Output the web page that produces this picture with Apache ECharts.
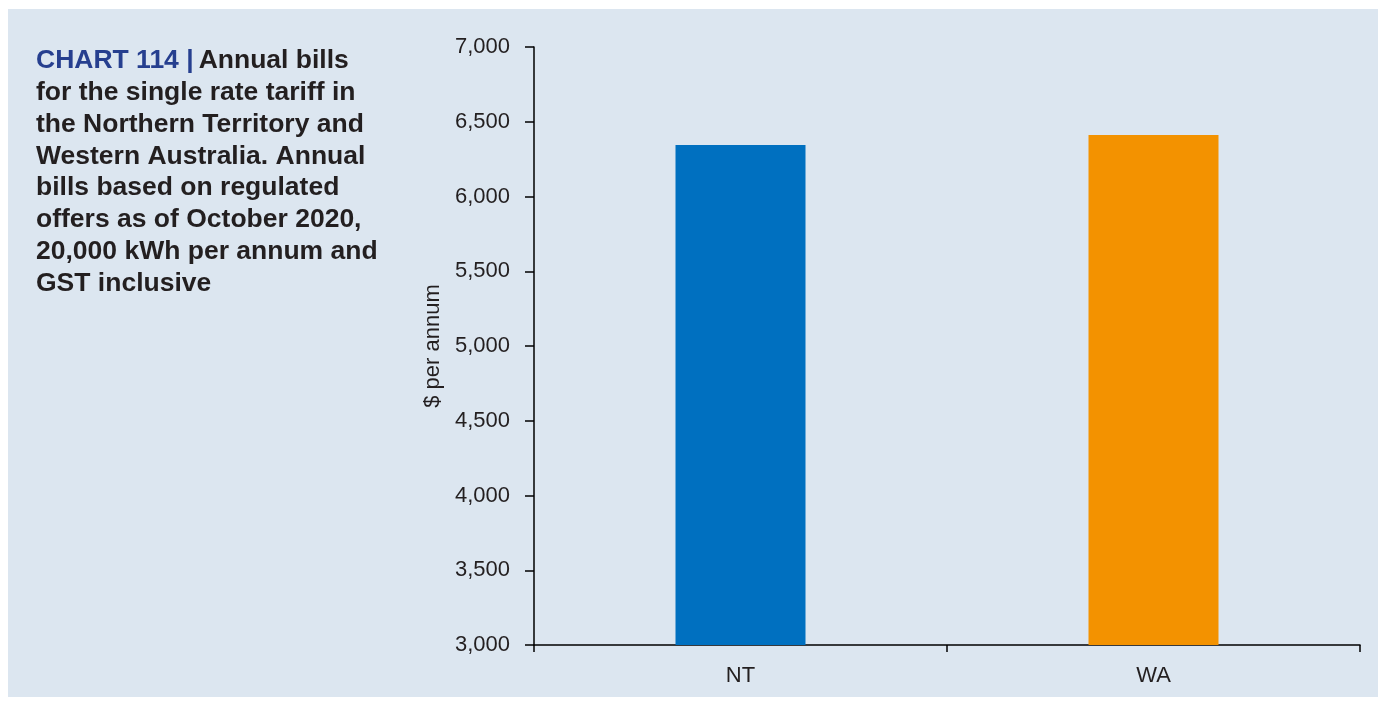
<!DOCTYPE html>
<html><head><meta charset="utf-8">
<script src="https://cdn.jsdelivr.net/npm/echarts@6/dist/echarts.min.js"></script>
<style>html,body{margin:0;padding:0;background:#fff}#c{width:1381px;height:703px}</style>
</head><body><div id="c"></div>
<script>
const categories = ['NT', 'WA'];
const values = [6345, 6412];
const barColors = ['#0070c0', '#f39200'];
const yTicks = { min: 3000, max: 7000, interval: 500 };
const titleLines = [
  'for the single rate tariff in',
  'the Northern Territory and',
  'Western Australia. Annual',
  'bills based on regulated',
  'offers as of October 2020,',
  '20,000 kWh per annum and',
  'GST inclusive'
];

const chart = echarts.init(document.getElementById('c'), null, {renderer: 'canvas'});
const font = '"Liberation Sans", Arial, Helvetica, sans-serif';
chart.setOption({
  backgroundColor: '#ffffff',
  animation: false,
  graphic: [{
    type: 'rect', z: -10, silent: true,
    shape: {x: 8, y: 9, width: 1370, height: 688},
    style: {fill: '#dce6f0'}
  }],
  title: {
    left: 36, top: 45, padding: 0,
    text: '{a|CHART 114 |} {b|Annual bills}\n' + titleLines.map(l => '{b|' + l + '}').join('\n'),
    textStyle: {
      fontFamily: font,
      rich: {
        a: {color: '#263f8f', fontSize: 26.5, fontWeight: 'bold', fontFamily: font, lineHeight: 31.8},
        b: {color: '#231f20', fontSize: 26.5, fontWeight: 'bold', fontFamily: font, lineHeight: 31.8}
      }
    }
  },
  grid: {left: 534, right: 21, top: 47, bottom: 58, containLabel: false},
  xAxis: {
    type: 'category', data: categories,
    axisLine: {lineStyle: {color: '#000', width: 1.5}},
    axisTick: {show: true, length: 7, lineStyle: {color: '#000', width: 1.5}},
    axisLabel: {color: '#231f20', fontSize: 22, fontFamily: font, margin: 20}
  },
  yAxis: {
    type: 'value', min: yTicks.min, max: yTicks.max, interval: yTicks.interval,
    name: '$ per annum', nameLocation: 'middle', nameGap: 83, nameRotate: 90,
    nameTextStyle: {color: '#231f20', fontSize: 22, fontFamily: font},
    axisLine: {show: true, lineStyle: {color: '#000', width: 1.5}},
    axisTick: {show: true, length: 9, lineStyle: {color: '#000', width: 1.5}},
    splitLine: {show: false},
    axisLabel: {color: '#231f20', fontSize: 22, fontFamily: font, margin: 24,
      formatter: v => v.toLocaleString('en-US')}
  },
  series: [{
    type: 'bar', barWidth: 130,
    data: values.map((v, i) => ({value: v, itemStyle: {color: barColors[i]}}))
  }]
});
</script></body></html>
